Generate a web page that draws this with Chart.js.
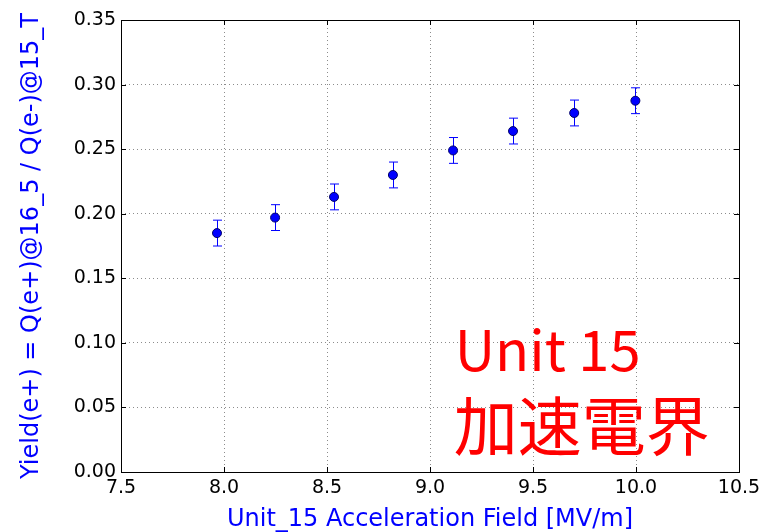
<!DOCTYPE html>
<html>
<head>
<meta charset="utf-8">
<script src="https://cdn.jsdelivr.net/npm/chart.js@4"></script>
<style>
  html, body { margin: 0; padding: 0; background: #fff; }
  #wrap { width: 763px; height: 532px; }
</style>
</head>
<body>
<div id="wrap"><canvas id="yieldChart" width="763" height="532"></canvas></div>
<script>
// 加速電界 vs positron yield
const fieldValues = [7.966, 8.248, 8.534, 8.820, 9.112, 9.403, 9.700, 9.997];
const yieldValues = [0.185, 0.197, 0.213, 0.230, 0.249, 0.264, 0.278, 0.2875];
const yieldErrors = [0.010, 0.010, 0.010, 0.010, 0.010, 0.010, 0.010, 0.010];
const xTicks = [7.5, 8.0, 8.5, 9.0, 9.5, 10.0, 10.5];
const yTicks = [0, 0.05, 0.10, 0.15, 0.20, 0.25, 0.30, 0.35];
const noteLines = ["Unit 15", "加速電界"];

const points = fieldValues.map((x, i) => ({ x: x, y: yieldValues[i] }));

// error bars, frame and inner tick marks
const errorBarPlugin = {
    id: "errorBars",
    beforeDatasetsDraw(chart) {
        const c = chart.ctx;
        const xs = chart.scales.x, ys = chart.scales.y;
        c.save();
        c.strokeStyle = "#0000ff";
        c.lineWidth = 1;
        fieldValues.forEach((x, i) => {
            const px = Math.round(xs.getPixelForValue(x)) + 0.5;
            const top = ys.getPixelForValue(yieldValues[i] + yieldErrors[i]);
            const bot = ys.getPixelForValue(yieldValues[i] - yieldErrors[i]);
            c.beginPath();
            c.moveTo(px, top); c.lineTo(px, bot);
            c.moveTo(px - 4.5, top); c.lineTo(px + 4.5, top);
            c.moveTo(px - 4.5, bot); c.lineTo(px + 4.5, bot);
            c.stroke();
        });
        c.restore();
    },
    afterDraw(chart) {
        const c = chart.ctx;
        const a = chart.chartArea;
        const xs = chart.scales.x, ys = chart.scales.y;
        c.save();
        c.strokeStyle = "#000";
        c.lineWidth = 1;
        c.beginPath();
        xTicks.forEach(v => {
            const px = Math.round(xs.getPixelForValue(v)) + 0.5;
            c.moveTo(px, a.bottom); c.lineTo(px, a.bottom - 5);
            c.moveTo(px, a.top); c.lineTo(px, a.top + 5);
        });
        yTicks.forEach(v => {
            const py = Math.round(ys.getPixelForValue(v)) + 0.5;
            c.moveTo(a.left, py); c.lineTo(a.left + 5, py);
            c.moveTo(a.right, py); c.lineTo(a.right - 5, py);
        });
        c.stroke();
        c.strokeRect(Math.round(a.left) + 0.5, Math.round(a.top) + 0.5,
            Math.round(a.right - a.left), Math.round(a.bottom - a.top));

        // red note
        c.fillStyle = "#ff0000";
        c.textBaseline = "alphabetic";
        c.textAlign = "left";
        c.font = "56px 'Noto Sans CJK JP'";
        c.fillText(noteLines[0], xs.getPixelForValue(9.12), ys.getPixelForValue(0.078));
        c.font = "64px 'Noto Sans CJK JP'";
        c.fillText(noteLines[1], xs.getPixelForValue(9.115), ys.getPixelForValue(0.0174));
        c.restore();
    }
};

const ctx = document.getElementById("yieldChart").getContext("2d");
const yieldChart = new Chart(ctx, {
    type: "scatter",
    data: {
        datasets: [{
            data: points,
            showLine: false,
            pointRadius: 4.5,
            pointBackgroundColor: "#0000ff",
            pointBorderColor: "#00006a",
            pointBorderWidth: 1
        }]
    },
    options: {
        responsive: false,
        animation: false,
        layout: { padding: { top: 20, right: 24, left: 0, bottom: 0 } },
        plugins: {
            legend: { display: false },
            tooltip: { enabled: false }
        },
        scales: {
            x: {
                type: "linear",
                min: 7.5,
                max: 10.5,
                afterBuildTicks: s => { s.ticks = xTicks.map(v => ({ value: v })); },
                afterFit: s => { s.height = 60; s.paddingLeft = 0; s.paddingRight = 0; },
                ticks: {
                    color: "#000",
                    font: { family: "'DejaVu Sans'", size: 19 },
                    padding: 5,
                    maxRotation: 0,
                    callback: v => Number(v).toFixed(1)
                },
                grid: {
                    color: "rgba(0,0,0,0.45)",
                    lineWidth: 1,
                    drawTicks: false
                },
                border: { display: false, dash: [1, 3] },
                title: {
                    display: true,
                    text: "Unit_15 Acceleration Field [MV/m]",
                    color: "#0000ff",
                    font: { family: "'DejaVu Sans'", size: 24, lineHeight: 1.0 },
                    padding: { top: 0, bottom: 0 }
                }
            },
            y: {
                type: "linear",
                min: 0,
                max: 0.35,
                afterBuildTicks: s => { s.ticks = yTicks.map(v => ({ value: v })); },
                afterFit: s => { s.width = 121; s.paddingTop = 0; s.paddingBottom = 0; },
                ticks: {
                    color: "#000",
                    font: { family: "'DejaVu Sans'", size: 19 },
                    padding: 5,
                    callback: v => Number(v).toFixed(2)
                },
                grid: {
                    color: "rgba(0,0,0,0.45)",
                    lineWidth: 1,
                    drawTicks: false
                },
                border: { display: false, dash: [1, 3] },
                title: {
                    display: true,
                    text: "Yield(e+) = Q(e+)@16_5 / Q(e-)@15_T",
                    color: "#0000ff",
                    font: { family: "'DejaVu Sans'", size: 24 },
                    padding: { top: 17, bottom: 0 }
                }
            }
        }
    },
    plugins: [errorBarPlugin]
});
</script>
</body>
</html>
